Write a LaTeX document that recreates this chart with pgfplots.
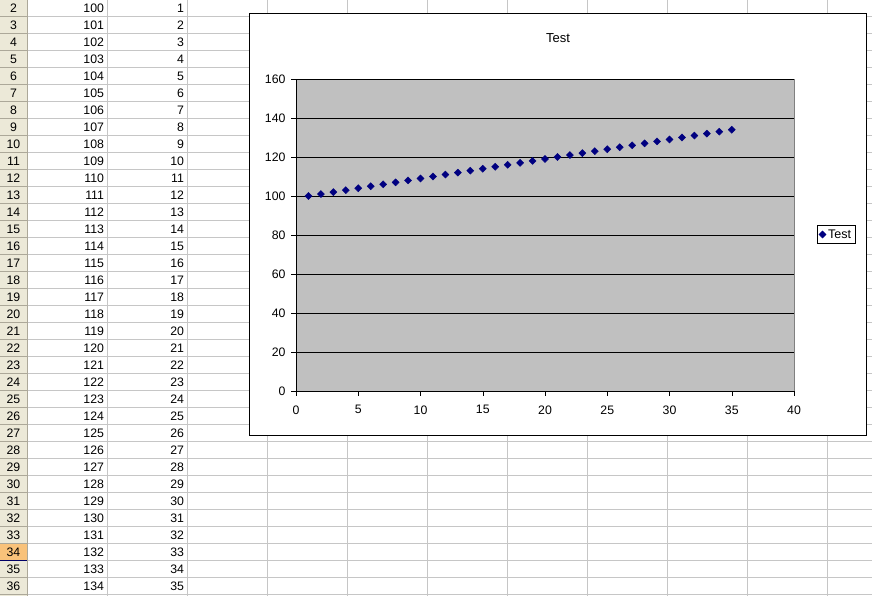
\documentclass[border=0pt]{standalone}
\usepackage{pgfplots}
\pgfplotsset{compat=1.18}
\usepackage{pgfplotstable}
\usepackage{fontspec}
\setmainfont{Liberation Sans}

\definecolor{hdr}{HTML}{ECE9D8}
\definecolor{hdrline}{HTML}{ACA899}
\definecolor{hdrsel}{HTML}{F9C27A}
\definecolor{cellgrid}{HTML}{C6C6C6}
\definecolor{plotgray}{HTML}{C0C0C0}
\definecolor{navy}{HTML}{000080}

\pgfplotstableread{
row A B
2 100 1
3 101 2
4 102 3
5 103 4
6 104 5
7 105 6
8 106 7
9 107 8
10 108 9
11 109 10
12 110 11
13 111 12
14 112 13
15 113 14
16 114 15
17 115 16
18 116 17
19 117 18
20 118 19
21 119 20
22 120 21
23 121 22
24 122 23
25 123 24
26 124 25
27 125 26
28 126 27
29 127 28
30 128 29
31 129 30
32 130 31
33 131 32
34 132 33
35 133 34
36 134 35
}\sheet

\begin{document}
\begin{tikzpicture}
\path[use as bounding box] (0,0) rectangle (872pt,596pt);
% spreadsheet background (pixel coordinates, y downward)
\begin{scope}[x=1pt,y=-1pt,shift={(0pt,596pt)}]
  \fill[white] (0,0) rectangle (872,596);
  \fill[hdr] (0,0) rectangle (27,596);
  \fill[hdrsel] (0,543.5) rectangle (27,560.5);
  \foreach \k in {0,...,34}{
    \draw[cellgrid] (27,16.5+17*\k) -- (872,16.5+17*\k);
    \draw[hdrline] (0,16.5+17*\k) -- (27,16.5+17*\k);
  }
  \draw[hdrline] (27.5,0) -- (27.5,596);
  \foreach \c in {107,187,267,347,427,507,587,667,747,827}{
    \draw[cellgrid] (\c+0.5,0) -- (\c+0.5,596);
  }
  \draw[navy!80!black] (0,560.5) -- (27,560.5);
\end{scope}

% spreadsheet cell contents
\begin{axis}[at={(0pt,0pt)}, anchor=south west, width=872pt, height=596pt,
  scale only axis, xmin=0, xmax=872, ymin=0, ymax=596, y dir=reverse,
  hide axis, clip=false,
  every node near coord/.append style={font=\fontsize{12.3}{14}\selectfont, inner sep=0pt, outer sep=0pt, text=black}]
  \addplot[draw=none, mark=none, nodes near coords, point meta=explicit symbolic,
    nodes near coords align={anchor=east}]
    table[x expr=104, y expr=8+17*(\thisrow{row}-2), meta=A] {\sheet};
  \addplot[draw=none, mark=none, nodes near coords, point meta=explicit symbolic,
    nodes near coords align={anchor=east}]
    table[x expr=184, y expr=8+17*(\thisrow{row}-2), meta=B] {\sheet};
  \addplot[draw=none, mark=none, nodes near coords, point meta=explicit symbolic,
    nodes near coords align={anchor=center}]
    table[x expr=13.5, y expr=8+17*(\thisrow{row}-2), meta=row] {\sheet};
\end{axis}

% chart area
\begin{scope}[x=1pt,y=-1pt,shift={(0pt,596pt)}]
  \draw[black, fill=white] (249.5,13.5) rectangle (866.5,435.5);
\end{scope}

\begin{axis}[at={(296pt,205pt)}, anchor=south west,
  width=498pt, height=312pt, scale only axis,
  xmin=0, xmax=40, ymin=0, ymax=160,
  xtick={0,5,...,40}, ytick={0,20,...,160},
  axis lines*=left, axis line style={-, black},
  tick align=outside, major tick length=5pt, tick style={black, thin},
  ymajorgrids, grid style={black, thin},
  axis background/.style={fill=plotgray, draw=gray},
  font=\fontsize{12.3}{14}\selectfont,
  tick label style={font=\fontsize{12.3}{14}\selectfont},
  xticklabel style={yshift=-6pt},
  yticklabel style={xshift=-2pt},
  /pgf/number format/assume math mode=true,
  title=Test,
  title style={at={(0.5,1)}, anchor=center, yshift=35pt, xshift=13pt, font=\fontsize{13}{15}\selectfont},
  legend style={at={(1.0843,0.5016)}, anchor=center, draw=black, inner sep=2pt,
    font=\fontsize{12.5}{14}\selectfont},
  clip=false]
  \addplot[only marks, mark=square*, mark size=2.5pt,
    mark options={draw=navy, fill=navy, rotate=45}]
    table[x=B, y=A] {\sheet};
  \addlegendentry{Test}
\end{axis}
\end{tikzpicture}
\end{document}
